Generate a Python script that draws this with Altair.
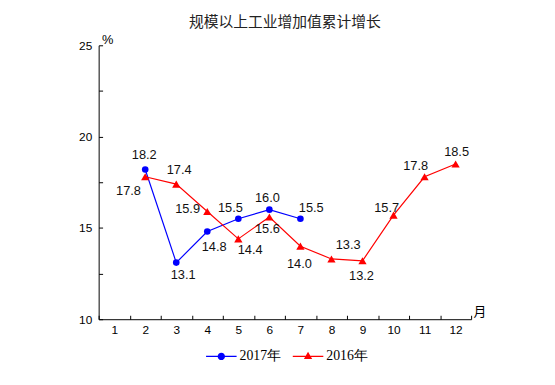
import altair as alt
import pandas as pd

TITLE = "规模以上工业增加值累计增长"
SERIES = ["2017年", "2016年"]
COLORS = ["#0000FF", "#FF0000"]

MONTHS_2017 = [2, 3, 4, 5, 6, 7]
VALUES_2017 = [18.2, 13.1, 14.8, 15.5, 16.0, 15.5]
MONTHS_2016 = [2, 3, 4, 5, 6, 7, 8, 9, 10, 11, 12]
VALUES_2016 = [17.8, 17.4, 15.9, 14.4, 15.6, 14.0, 13.3, 13.2, 15.7, 17.8, 18.5]

X_LABELS = list(range(1, 13))
X_TICKS = [m + 0.5 for m in range(0, 13)]
Y_LABELS = [10, 15, 20, 25]
Y_TICKS = [10, 12.5, 15, 17.5, 20, 22.5, 25]

# label offsets (pixels) for each value label
OFF_2017 = [(-1, -15), (7, 13), (7, 16), (-8, -11), (-2, -12), (11, -11)]
OFF_2016 = [(-17, 14), (3, -14), (-20, -2), (12, 11), (-2, 12), (-1, 18),
            (17, -14), (-1, 15), (-7, -7), (-9, -11), (1, -12)]

W, H = 378, 278

df = pd.concat([
    pd.DataFrame({"month": MONTHS_2017, "value": VALUES_2017, "series": SERIES[0], "ord": 0}),
    pd.DataFrame({"month": MONTHS_2016, "value": VALUES_2016, "series": SERIES[1], "ord": 1}),
], ignore_index=True)
df["label"] = df["value"].map(lambda v: f"{v:.1f}")

xs = alt.Scale(domain=[0.5, 12.5], nice=False, zero=False)
ys = alt.Scale(domain=[10, 25], nice=False, zero=False)
# data-derived domain is sorted: 2016年, 2017年
cs = alt.Scale(range=[COLORS[1], COLORS[0]])

base = alt.Chart(df)

line = base.mark_line(strokeWidth=1.2).encode(
    x=alt.X("month:Q", scale=xs, axis=alt.Axis(
        values=X_LABELS, format="d", ticks=False, grid=False, labelPadding=6,
        labelFont="Liberation Sans", labelFontSize=12, labelColor="black",
        domainColor="black", domainWidth=1,
        title="月", titleFont="Noto Sans CJK SC", titleFontSize=13, titleFontWeight="normal",
        titleColor="black", titleX=W + 2, titleY=-1, titleAlign="left", titleBaseline="bottom",
        titleAngle=0)),
    y=alt.Y("value:Q", scale=ys, axis=alt.Axis(
        values=Y_LABELS, format="d", ticks=False, grid=False, labelPadding=7,
        labelFont="Liberation Sans", labelFontSize=12, labelColor="black",
        domainColor="black", domainWidth=1,
        title="%", titleFont="Liberation Sans", titleFontSize=13, titleFontWeight="normal",
        titleColor="black", titleX=3, titleY=1, titleAlign="left", titleBaseline="bottom",
        titleAngle=0)),
    color=alt.Color("series:N", scale=cs, legend=None),
    order=alt.Order("month:Q"),
)

points = base.mark_point(filled=True, opacity=1).encode(
    x=alt.X("month:Q", scale=xs, axis=alt.Axis(
        orient="top", offset=-H, values=X_TICKS, labels=False, domain=False, grid=False,
        ticks=True, tickSize=4, tickColor="black", tickWidth=1, title=None)),
    y=alt.Y("value:Q", scale=ys, axis=alt.Axis(
        orient="right", offset=-W, values=Y_TICKS, labels=False, domain=False, grid=False,
        ticks=True, tickSize=4, tickColor="black", tickWidth=1, title=None)),
    color=alt.Color("series:N", scale=cs, legend=None),
    shape=alt.condition(alt.datum.series == SERIES[0], alt.value("circle"), alt.value("triangle-up")),
    size=alt.condition(alt.datum.series == SERIES[0], alt.value(45), alt.value(70)),
    order=alt.Order("ord:Q"),
)

circle_path = ("M-1,-0.045L1,-0.045L1,0.045L-1,0.045Z"
               "M-0.24,0A0.24,0.24,0,1,1,0.24,0A0.24,0.24,0,1,1,-0.24,0Z")
tri_path = ("M-1,-0.045L1,-0.045L1,0.045L-1,0.045Z"
            "M0,-0.3L0.27,0.17L-0.27,0.17Z")

legend_layer = base.transform_filter("datum.month > 100").mark_point(
    filled=True, opacity=1, size=961).encode(
    fill=alt.Fill("series:N", scale=alt.Scale(domain=SERIES, range=COLORS), title=None,
                  legend=alt.Legend(
                      orient="none", direction="horizontal", legendX=109, legendY=300,
                      labelFont="Liberation Serif", labelFontSize=14, labelColor="black",
                      labelOffset=3, columnPadding=12, symbolSize=961, symbolStrokeWidth=0,
                      padding=0, symbolOpacity=1)),
    shape=alt.Shape("series:N", scale=alt.Scale(domain=SERIES, range=[circle_path, tri_path]),
                    title=None),
)

label_layers = []
for ser, months, offs in [(SERIES[0], MONTHS_2017, OFF_2017), (SERIES[1], MONTHS_2016, OFF_2016)]:
    for m, (dx, dy) in zip(months, offs):
        label_layers.append(
            base.transform_filter(f"datum.series == '{ser}' && datum.month == {m}")
            .mark_text(dx=dx, dy=dy, font="Liberation Sans", fontSize=13, color="#111",
                       baseline="middle", align="center")
            .encode(x=alt.X("month:Q", scale=xs, axis=None),
                    y=alt.Y("value:Q", scale=ys, axis=None),
                    text="label:N")
        )

chart = alt.layer(line, points, legend_layer, *label_layers).resolve_axis(
    x="independent", y="independent"
).properties(
    width=W, height=H,
    title=alt.TitleParams(TITLE, font="Noto Sans CJK SC", fontSize=15, fontWeight="normal",
                          color="#222", anchor="middle", offset=4),
    autosize=alt.AutoSizeParams(type="none"),
    padding={"left": 92, "top": 35, "right": 77, "bottom": 70},
).configure_view(stroke=None)

chart.save("out.html", embed_options={"renderer": "svg", "actions": False})
